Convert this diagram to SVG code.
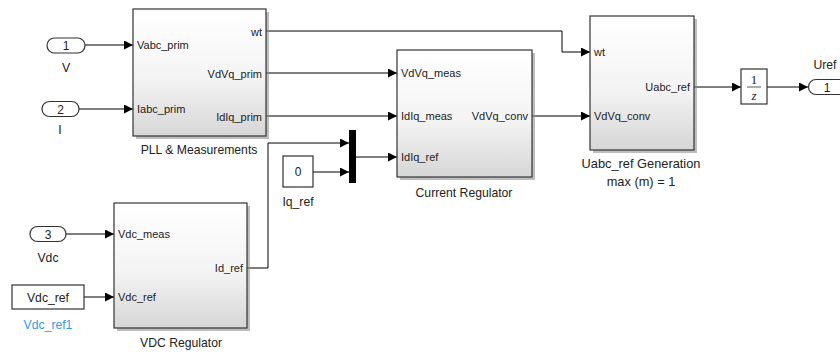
<svg xmlns="http://www.w3.org/2000/svg" width="840" height="352" viewBox="0 0 840 352">
<defs>
<linearGradient id="g" x1="0" y1="0" x2="0" y2="1">
<stop offset="0" stop-color="#ffffff"/>
<stop offset="0.55" stop-color="#f4f4f4"/>
<stop offset="1" stop-color="#d6d6d6"/>
</linearGradient>
<marker id="a" viewBox="0 0 10 10" refX="10" refY="5" markerWidth="9" markerHeight="9" markerUnits="userSpaceOnUse" orient="auto">
<path d="M0,0 L10,5 L0,10 z" fill="#000"/>
</marker>
</defs>
<style>
text{font-family:"Liberation Sans",Arial,sans-serif;fill:#222}
.p{font-size:11px}
.n{font-size:12px}
.l{font-size:12.2px}
.blk{fill:url(#g);stroke:#333;stroke-width:1.2}
.sh{fill:#888;opacity:0.55}
.box{fill:#fff;stroke:#333;stroke-width:1.2}
.w{fill:none;stroke:#000;stroke-width:1}
</style>
<rect width="840" height="352" fill="#fff"/>

<g id="connectors">
<path class="w" d="M85,45 H133" marker-end="url(#a)"/>
<path class="w" d="M79,109 H133" marker-end="url(#a)"/>
<path class="w" d="M66,234 H114" marker-end="url(#a)"/>
<path class="w" d="M84,297 H114" marker-end="url(#a)"/>
<path class="w" d="M266,31 H562 V52 H590" marker-end="url(#a)"/>
<path class="w" d="M266,73 H397" marker-end="url(#a)"/>
<path class="w" d="M266,116 H397" marker-end="url(#a)"/>
<path class="w" d="M247,268 H268 V143 H349" marker-end="url(#a)"/>
<path class="w" d="M313,172 H349" marker-end="url(#a)"/>
<path class="w" d="M356,157 H397" marker-end="url(#a)"/>
<path class="w" d="M532,116 H590" marker-end="url(#a)"/>
<path class="w" d="M694,87 H741" marker-end="url(#a)"/>
<path class="w" d="M767,87 H808" marker-end="url(#a)"/>
</g>

<g id="in1">
<rect x="47" y="38" width="38" height="15" rx="7.5" class="box"/>
<text x="66" y="50" class="n" text-anchor="middle">1</text>
<text x="66" y="72" class="l" text-anchor="middle">V</text>
</g>
<g id="in2">
<rect x="42" y="101.5" width="37" height="15" rx="7.5" class="box"/>
<text x="60.5" y="113.5" class="n" text-anchor="middle">2</text>
<text x="60" y="134" class="l" text-anchor="middle">I</text>
</g>
<g id="in3">
<rect x="30" y="226.5" width="36" height="15" rx="7.5" class="box"/>
<text x="48" y="238.5" class="n" text-anchor="middle">3</text>
<text x="48" y="262" class="l" text-anchor="middle">Vdc</text>
</g>
<g id="vdcref">
<rect x="12" y="285" width="72" height="24" class="box"/>
<text x="48" y="301.5" class="l" text-anchor="middle">Vdc_ref</text>
<text x="48" y="329" class="l" text-anchor="middle" style="fill:#3399ee">Vdc_ref1</text>
</g>

<g id="pll">
<rect x="136" y="12" width="133" height="127" class="sh"/>
<rect x="133" y="9" width="133" height="127" class="blk"/>
<text x="137" y="49" class="p">Vabc_prim</text>
<text x="137" y="113" class="p">Iabc_prim</text>
<text x="262" y="35.5" class="p" text-anchor="end">wt</text>
<text x="262" y="78" class="p" text-anchor="end">VdVq_prim</text>
<text x="262" y="121" class="p" text-anchor="end">IdIq_prim</text>
<text x="199" y="154" class="l" text-anchor="middle">PLL &amp; Measurements</text>
</g>

<g id="vdcreg">
<rect x="117" y="206" width="133" height="125" class="sh"/>
<rect x="114" y="203" width="133" height="125" class="blk"/>
<text x="118" y="238" class="p">Vdc_meas</text>
<text x="118" y="301" class="p">Vdc_ref</text>
<text x="243" y="272" class="p" text-anchor="end">Id_ref</text>
<text x="181" y="347" class="l" text-anchor="middle">VDC Regulator</text>
</g>

<g id="iqref">
<rect x="283" y="156" width="30" height="31" class="box"/>
<text x="298" y="176" class="n" text-anchor="middle">0</text>
<text x="298" y="206" class="l" text-anchor="middle">Iq_ref</text>
</g>

<g id="mux">
<rect x="349" y="130" width="7" height="53" fill="#000"/>
</g>

<g id="curreg">
<rect x="400" y="53" width="135" height="127" class="sh"/>
<rect x="397" y="50" width="135" height="127" class="blk"/>
<text x="401" y="77" class="p">VdVq_meas</text>
<text x="401" y="120" class="p">IdIq_meas</text>
<text x="401" y="161" class="p">IdIq_ref</text>
<text x="528" y="120" class="p" text-anchor="end">VdVq_conv</text>
<text x="464" y="197" class="l" text-anchor="middle">Current Regulator</text>
</g>

<g id="uabc">
<rect x="593" y="19" width="104" height="134" class="sh"/>
<rect x="590" y="16" width="104" height="134" class="blk"/>
<text x="594" y="56" class="p">wt</text>
<text x="594" y="120" class="p">VdVq_conv</text>
<text x="690" y="91" class="p" text-anchor="end">Uabc_ref</text>
<text x="641" y="168" class="l" text-anchor="middle" style="font-size:12.8px">Uabc_ref Generation</text>
<text x="641" y="186" class="l" text-anchor="middle" style="font-size:12.8px">max (m) = 1</text>
</g>

<g id="delay">
<rect x="741" y="69" width="26" height="35" class="box"/>
<text x="754" y="84" text-anchor="middle" style="font-family:'Liberation Serif',serif;font-size:13px">1</text>
<line x1="747" y1="87" x2="761" y2="87" stroke="#333" stroke-width="0.8"/>
<text x="754" y="100" text-anchor="middle" style="font-family:'Liberation Serif',serif;font-style:italic;font-size:13px">z</text>
</g>

<g id="out1">
<path d="M816,79.5 H845 V94.5 H816 A7.5,7.5 0 0 1 816,79.5 z" class="box"/>
<text x="827" y="91.5" class="n" text-anchor="middle">1</text>
<text x="825" y="69" class="l" text-anchor="middle">Uref</text>
</g>
</svg>
